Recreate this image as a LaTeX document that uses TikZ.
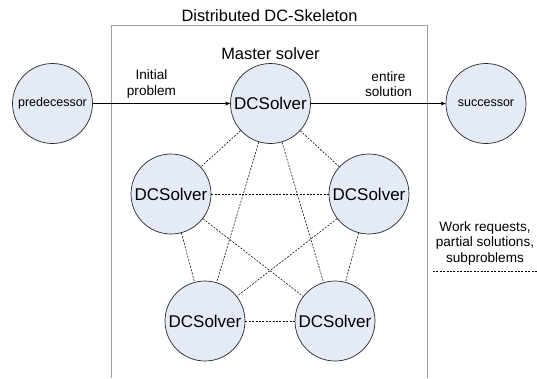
\documentclass[tikz,border=0pt]{standalone}
\usepackage{fontspec}
\setmainfont{Liberation Sans}
\usetikzlibrary{arrows.meta}
\definecolor{nodefill}{RGB}{228,234,246}
\definecolor{framegray}{RGB}{160,160,160}
\tikzset{
  solver/.style={circle, draw=black!85, line width=0.7pt, fill=nodefill,
    minimum size=80pt, inner sep=0pt, font=\fontsize{17}{18}\selectfont},
  endpoint/.style={circle, draw=black!85, line width=0.7pt, fill=nodefill,
    minimum size=80pt, inner sep=0pt, font=\fontsize{12.5}{14}\selectfont},
  link/.style={line width=0.55pt, dash pattern=on 2pt off 1.4pt},
  flow/.style={line width=0.7pt, -{Stealth[length=5pt,width=4pt]}},
  caption/.style={align=center, font=\fontsize{13.6}{15.5}\selectfont, inner sep=0pt},
  heading/.style={font=\fontsize{16.4}{18}\selectfont, inner sep=0pt}
}
\begin{document}
\begin{tikzpicture}[x=1pt,y=-1pt]
\useasboundingbox (0,0) rectangle (537,378);
% frame of the distributed skeleton, open at the bottom
\draw[framegray, line width=0.8pt] (111.5,378) -- (111.5,25.5) -- (427.5,25.5) -- (427.5,378);
\node[heading] (title) at (269.5,16) {Distributed DC-Skeleton};
\node[heading] (mlabel) at (270.5,54) {Master solver};

% solvers
\node[solver] (m)  at (270.5,103.5) {DCSolver};
\node[solver] (l)  at (171,194) {DCSolver};
\node[solver] (r)  at (369,194) {DCSolver};
\node[solver] (bl) at (205,321) {DCSolver};
\node[solver] (br) at (335,321) {DCSolver};

% outer pipeline stages
\node[endpoint] (pred) at (52.5,103.5) {predecessor};
\node[endpoint] (succ) at (486,103.5) {successor};

% every solver talks to every other one
\foreach \a/\b in {m/l, m/r, m/bl, m/br, l/r, l/bl, l/br, r/bl, r/br, bl/br}
  \draw[link] (\a) -- (\b);

% pipeline arrows
\draw[flow] (pred) -- (m);
\draw[flow] (m) -- (succ);
\node[caption] (in)  at (151.5,84) {Initial\\problem};
\node[caption] (out) at (388.5,84) {entire\\solution};

% legend
\node[caption] (legend) at (485,243) {Work requests,\\partial solutions,\\subproblems};
\coordinate (lg1) at (433,271);
\coordinate (lg2) at (537,271);
\draw[link] (lg1) -- (lg2);
\end{tikzpicture}
\end{document}
